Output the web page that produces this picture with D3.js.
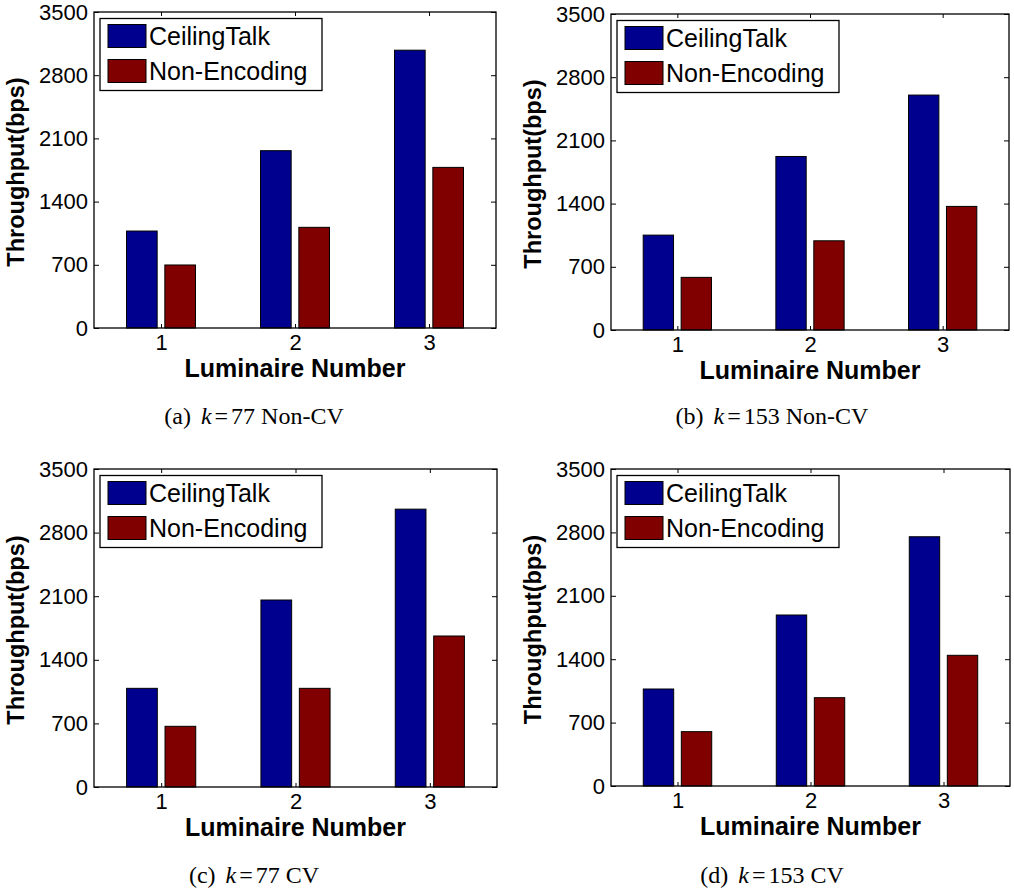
<!DOCTYPE html>
<html>
<head>
<meta charset="utf-8">
<script src="https://cdn.jsdelivr.net/npm/d3@7"></script>
<style>
  body { margin: 0; background: #fff; }
  svg { display: block; }
</style>
</head>
<body>
<div id="chart"></div>
<script>
// luminaire numbers on the x axis
const luminaires = [1, 2, 3];
const yTicks = [0, 700, 1400, 2100, 2800, 3500];
const seriesNames = ["CeilingTalk", "Non-Encoding"];

// throughput (bps)
const ceilingK77NonCV = [1074, 1964, 3077];
const nonEncK77NonCV = [698, 1115, 1779];
const ceilingK153NonCV = [1051, 1922, 2602];
const nonEncK153NonCV = [583, 988, 1369];
const ceilingK77CV = [1086, 2058, 3058];
const nonEncK77CV = [668, 1086, 1662];
const ceilingK153CV = [1071, 1888, 2752];
const nonEncK153CV = [600, 975, 1443];

const captions = [
  ["(a)", "k", "77 Non-CV"],
  ["(b)", "k", "153 Non-CV"],
  ["(c)", "k", "77 CV"],
  ["(d)", "k", "153 CV"]
];

const colors = ["#00008f", "#800000"];
const sans = "'Liberation Sans', Arial, Helvetica, sans-serif";
const tickFont = 22;

const w = 1014, h = 890;
const svg = d3.select("#chart").append("svg")
  .attr("width", w)
  .attr("height", h);

// panel frames
const panels = [
  { left: 94, right: 496, top: 12, bottom: 328, capX: 254, capY: 424, data: [ceilingK77NonCV, nonEncK77NonCV] },
  { left: 611, right: 1009, top: 14, bottom: 330, capX: 772, capY: 424, data: [ceilingK153NonCV, nonEncK153NonCV] },
  { left: 94, right: 497, top: 469, bottom: 787, capX: 254, capY: 883, data: [ceilingK77CV, nonEncK77CV] },
  { left: 611, right: 1010, top: 469, bottom: 786, capX: 772, capY: 883, data: [ceilingK153CV, nonEncK153CV] }
];

// matlab grouped bar: 2 series
const barW = 0.2286, barOff = 0.143;

function styleAxis(a) {
  a.attr("font-size", tickFont).attr("font-family", sans);
  a.select(".domain").remove();
  a.selectAll(".tick line").attr("stroke", "#000");
  a.selectAll(".tick text")
    .attr("fill", "#000")
    .style("font-size", tickFont + "px");
}

panels.forEach((p, pi) => {
  const x = d3.scaleLinear().domain([0.5, 3.5]).range([p.left, p.right]);
  const y = d3.scaleLinear().domain([0, 3500]).range([p.bottom, p.top]);
  const g = svg.append("g");

  // ticks first so bars sit on top
  g.append("g")
    .attr("transform", `translate(${p.left},0)`)
    .call(d3.axisLeft(y).tickValues(yTicks).tickFormat(d3.format("d")).tickSizeInner(-5).tickSizeOuter(0).tickPadding(6))
    .call(styleAxis);
  g.append("g")
    .attr("transform", `translate(${p.right},0)`)
    .call(d3.axisRight(y).tickValues(yTicks).tickFormat("").tickSizeInner(-5).tickSizeOuter(0))
    .call(styleAxis);
  g.append("g")
    .attr("transform", `translate(0,${p.top})`)
    .call(d3.axisTop(x).tickValues(luminaires).tickFormat("").tickSizeInner(-4).tickSizeOuter(0))
    .call(styleAxis);
  g.append("g")
    .attr("transform", `translate(0,${p.bottom})`)
    .call(d3.axisBottom(x).tickValues(luminaires).tickFormat(d3.format("d")).tickSizeInner(-4).tickSizeOuter(0).tickPadding(6))
    .call(styleAxis);

  p.data.forEach((vals, si) => {
    const off = si === 0 ? -barOff : barOff;
    g.selectAll(null)
      .data(vals)
      .enter()
      .append("rect")
      .attr("x", (d, i) => x(luminaires[i] + off - barW / 2))
      .attr("y", d => y(d))
      .attr("width", x(barW) - x(0))
      .attr("height", d => y(0) - y(d))
      .attr("fill", colors[si])
      .attr("stroke", "#000")
      .attr("stroke-width", 1);
  });

  // axes box
  g.append("rect")
    .attr("x", p.left)
    .attr("y", p.top)
    .attr("width", p.right - p.left)
    .attr("height", p.bottom - p.top)
    .attr("fill", "none")
    .attr("stroke", "#000")
    .attr("stroke-width", 1.3);

  // legend
  const lg = g.append("g").attr("transform", `translate(${p.left + 6},${p.top + 6.5})`);
  lg.append("rect")
    .attr("width", 222)
    .attr("height", 72)
    .attr("fill", "#fff")
    .attr("stroke", "#000")
    .attr("stroke-width", 1.3);
  seriesNames.forEach((name, si) => {
    lg.append("rect")
      .attr("x", 8)
      .attr("y", 6 + si * 35)
      .attr("width", 38)
      .attr("height", 23)
      .attr("fill", colors[si])
      .attr("stroke", "#000")
      .attr("stroke-width", 1);
    lg.append("text")
      .attr("x", 49)
      .attr("y", 26 + si * 35)
      .style("font-family", sans)
      .style("font-size", "25px")
      .text(name);
  });

  // axis labels
  g.append("text")
    .attr("text-anchor", "middle")
    .attr("x", (p.left + p.right) / 2)
    .attr("y", p.bottom + 49)
    .style("font-family", sans)
    .style("font-size", "25px")
    .style("font-weight", "bold")
    .text("Luminaire Number");
  g.append("text")
    .attr("text-anchor", "middle")
    .attr("transform", `translate(${p.left - 70},${(p.top + p.bottom) / 2 + 2}) rotate(-90)`)
    .style("font-family", sans)
    .style("font-size", "23.5px")
    .style("font-weight", "bold")
    .text("Throughput(bps)");

  // sub caption
  const cap = svg.append("text")
    .attr("text-anchor", "middle")
    .attr("x", p.capX)
    .attr("y", p.capY)
    .style("font-family", "'Liberation Serif', 'Times New Roman', serif")
    .style("font-size", "24px");
  cap.append("tspan").text(captions[pi][0]);
  cap.append("tspan").attr("dx", 10).style("font-style", "italic").text(captions[pi][1]);
  cap.append("tspan").attr("dx", 3).text("=");
  cap.append("tspan").attr("dx", 3).text(captions[pi][2]);
});
</script>
</body>
</html>
